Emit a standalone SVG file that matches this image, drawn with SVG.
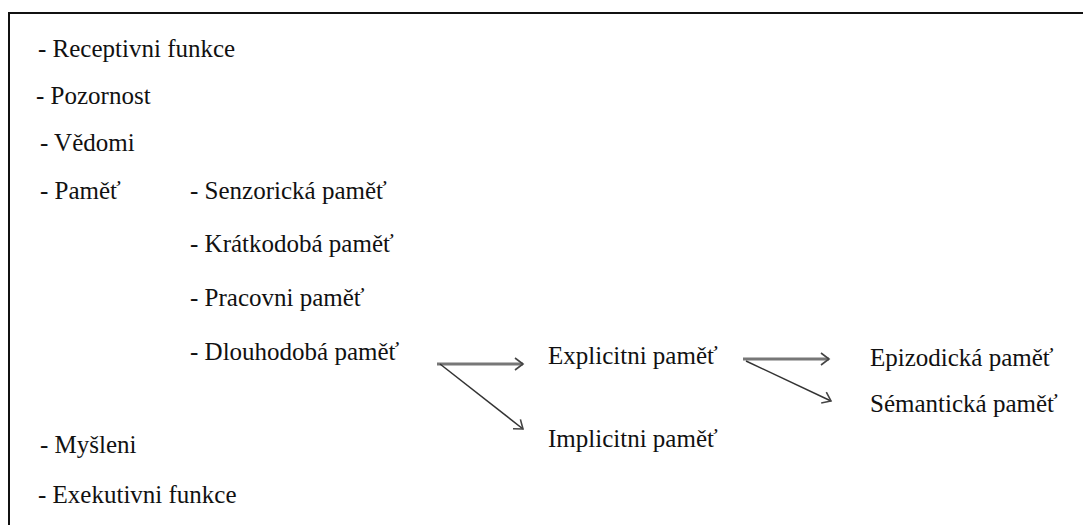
<svg xmlns="http://www.w3.org/2000/svg" width="1083" height="525" viewBox="0 0 1083 525">
<style>
text{font-size:25px;fill:#111}
.shaft{stroke:#777;stroke-width:3;fill:none}
.diag{stroke:#333;stroke-width:1.5;fill:none}
</style>
<defs>
<marker id="ah" markerWidth="12" markerHeight="14" refX="10" refY="7" orient="auto" markerUnits="userSpaceOnUse">
<path d="M2,1 L10,7 L2,13" fill="none" stroke="#444" stroke-width="1.6"/>
</marker>
</defs>
<rect width="1083" height="525" fill="#fff"/>
<path d="M9,530 V13 H1090" fill="none" stroke="#111" stroke-width="2"/>
<g font-family="'Liberation Serif', Tinos, 'Times New Roman', 'DejaVu Serif', 'Noto Serif', serif">
<g id="n-receptivni"><text x="38" y="57">- Receptivni funkce</text></g>
<g id="n-pozornost"><text x="36" y="104">- Pozornost</text></g>
<g id="n-vedomi"><text x="40" y="151">- Vědomi</text></g>
<g id="n-pamet"><text x="40" y="199">- Paměť</text></g>
<g id="n-senzoricka"><text x="190" y="199">- Senzorická paměť</text></g>
<g id="n-kratkodoba"><text x="190" y="252">- Krátkodobá paměť</text></g>
<g id="n-pracovni"><text x="190" y="306">- Pracovni paměť</text></g>
<g id="n-dlouhodoba"><text x="190" y="360">- Dlouhodobá paměť</text></g>
<g id="n-explicitni"><text x="548" y="364">Explicitni paměť</text></g>
<g id="n-implicitni"><text x="548" y="447">Implicitni paměť</text></g>
<g id="n-epizodicka"><text x="870" y="366">Epizodická paměť</text></g>
<g id="n-semanticka"><text x="870" y="412">Sémantická paměť</text></g>
<g id="n-mysleni"><text x="40" y="453">- Myšleni</text></g>
<g id="n-exekutivni"><text x="38" y="503">- Exekutivni funkce</text></g>
</g>
<g id="connectors">
<line class="shaft" x1="437" y1="364" x2="523" y2="364" marker-end="url(#ah)"/>
<line class="diag" x1="440" y1="364" x2="523" y2="429" marker-end="url(#ah)"/>
<line class="shaft" x1="743" y1="359" x2="829" y2="359" marker-end="url(#ah)"/>
<line class="diag" x1="746" y1="361" x2="831" y2="401" marker-end="url(#ah)"/>
</g>
</svg>
